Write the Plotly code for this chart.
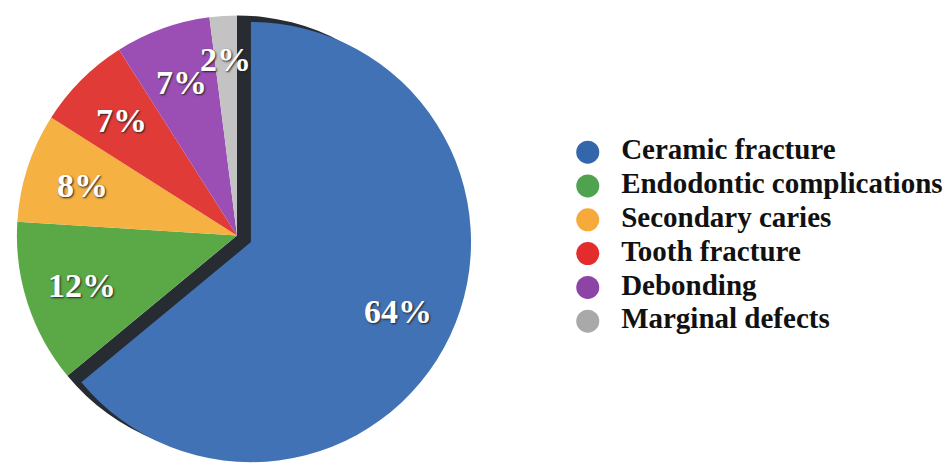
import math
import plotly.graph_objects as go

# Failure causes and their shares (%)
causes = ["Ceramic fracture", "Endodontic complications", "Secondary caries",
          "Tooth fracture", "Debonding", "Marginal defects"]
shares = [64, 12, 8, 7, 7, 2]
colors = ["#4272b6", "#5ba846", "#f5b142", "#e13b38", "#9b4fb4", "#c3c3c3"]
legend_colors = ["#3466ab", "#4fa34f", "#f6aa3a", "#e32d2d", "#8e44a6", "#a9a9a9"]

W, H = 948, 471
PULL = 0.07
pie_x = [0.0, 0.5]
pie_y = [0.0, 1.0]

fig = go.Figure()

# dark unpulled copy of the first slice sits behind the pulled one -> 3D side
shadow_pull = [0, 0, 0, 0, 0, PULL]  # same max pull keeps the radius identical
fig.add_trace(go.Pie(
    values=shares, labels=causes, sort=False, direction="clockwise", rotation=0,
    pull=shadow_pull, domain=dict(x=pie_x, y=pie_y),
    marker=dict(colors=["#272c33"] + ["rgba(0,0,0,0)"] * 5, line=dict(width=0)),
    textinfo="none", hoverinfo="skip", showlegend=False,
))

# main pie
fig.add_trace(go.Pie(
    values=shares, labels=causes, sort=False, direction="clockwise", rotation=0,
    pull=[PULL, 0, 0, 0, 0, 0], domain=dict(x=pie_x, y=pie_y),
    marker=dict(colors=colors, line=dict(width=0)),
    textinfo="none", hovertemplate="%{label}: %{value}%<extra></extra>",
    showlegend=False,
))

# percentage labels placed along each slice's mid-angle
box_w = W * (pie_x[1] - pie_x[0])
box_h = H * (pie_y[1] - pie_y[0])
r = min(box_w, box_h) / 2 / (1 + PULL)
cx = W * (pie_x[0] + pie_x[1]) / 2
cy = H * (pie_y[0] + pie_y[1]) / 2
total = sum(shares)
start = 0.0
for i, v in enumerate(shares):
    mid = math.radians((start + v / 2) / total * 360)
    start += v
    pull = PULL if i == 0 else 0
    frac = 0.74 if v > 2 else 0.8
    px = cx + (pull + frac) * r * math.sin(mid)
    py = cy + (pull + frac) * r * math.cos(mid)
    fig.add_annotation(
        x=px / W, y=py / H, xref="paper", yref="paper", showarrow=False,
        xanchor="center", yanchor="middle",
        text=f"{v}%",
        font=dict(family="Liberation Serif", size=34, color="white", weight="bold",
                  shadow="1px 1px 2px #222"),
    )

# legend: round markers with names
idx = list(range(len(causes)))
fig.add_trace(go.Scatter(
    x=[0.05] * len(causes), y=idx, mode="markers", hoverinfo="skip",
    marker=dict(symbol="circle", size=23, color=legend_colors, line=dict(width=0)),
    showlegend=False, xaxis="x", yaxis="y",
))
fig.add_trace(go.Scatter(
    x=[0.138] * len(causes), y=idx, mode="text", text=causes, hoverinfo="skip",
    textposition="middle right",
    textfont=dict(family="Liberation Serif", size=29, color="#111", weight="bold"),
    showlegend=False, xaxis="x", yaxis="y",
))

fig.update_layout(
    width=W, height=H,
    margin=dict(l=0, r=0, t=0, b=0),
    paper_bgcolor="white", plot_bgcolor="rgba(0,0,0,0)",
    xaxis=dict(domain=[0.6, 1.0], range=[0, 1], visible=False, fixedrange=True),
    yaxis=dict(domain=[0, 1], range=[9.43, -4.5], visible=False, fixedrange=True),
)

fig.write_html("out.html")
